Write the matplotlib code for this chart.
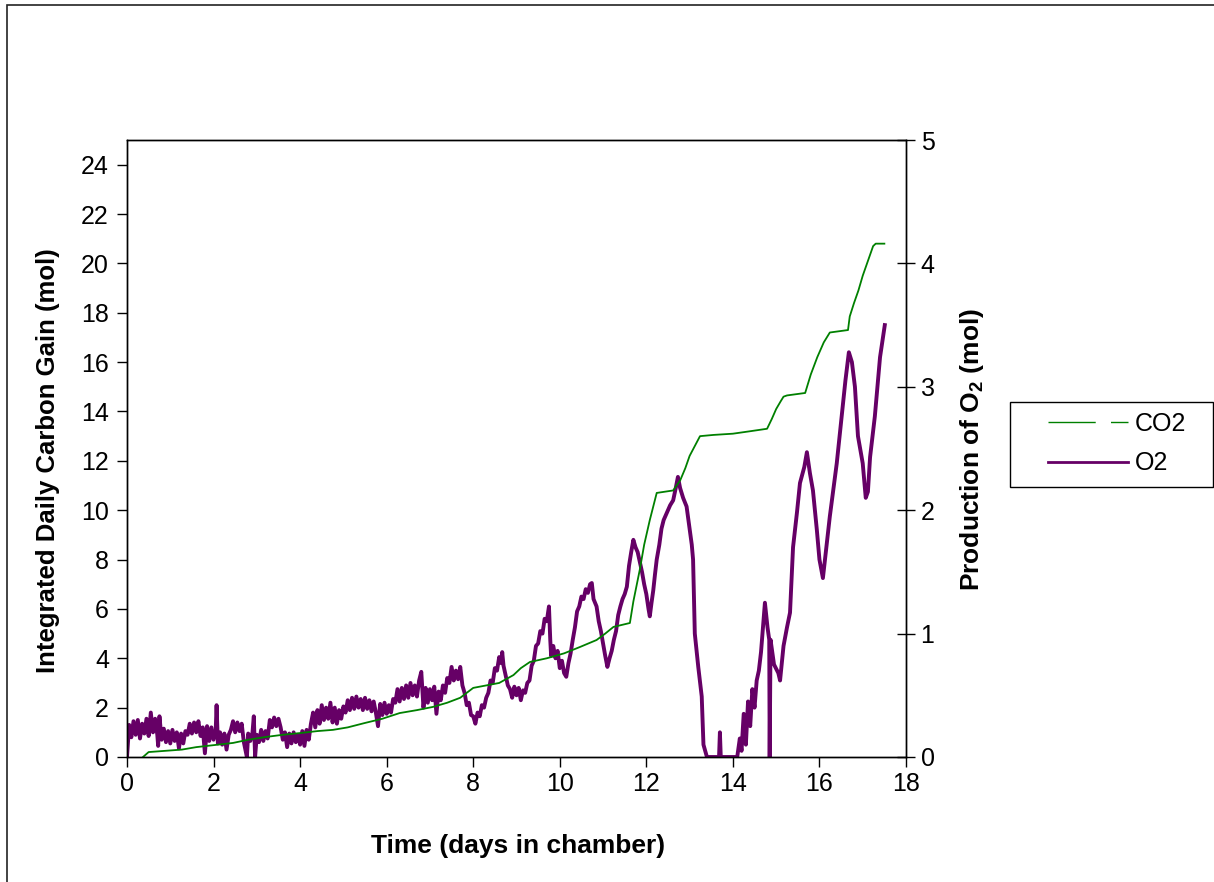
import matplotlib.pyplot as plt
from matplotlib.lines import Line2D
from matplotlib.patches import Rectangle

plt.rcParams['font.family'] = ['Liberation Sans', 'DejaVu Sans']
plt.rcParams['mathtext.fontset'] = 'custom'
plt.rcParams['mathtext.rm'] = 'Liberation Sans'
plt.rcParams['mathtext.bf'] = 'Liberation Sans:bold'

# integrated carbon gain (left axis)
co2_day = [0.37, 0.5, 1.27, 1.6, 2.0, 2.45, 2.8, 3.2, 3.6, 4.0, 4.4, 4.76, 5.1, 5.5, 5.9,
           6.3, 6.7, 7.07, 7.4, 7.7, 8.0, 8.3, 8.6, 8.93, 9.1, 9.31, 9.7, 10.1, 10.47,
           10.85, 11.05, 11.24, 11.62, 11.7, 11.85, 11.95, 12.08, 12.24, 12.62, 12.78,
           12.9, 13.0, 13.12, 13.24, 13.55, 14.0, 14.4, 14.79, 14.9, 15.0, 15.1, 15.17,
           15.25, 15.67, 15.8, 15.95, 16.1, 16.24, 16.66, 16.7, 16.8, 16.9, 17.0, 17.1,
           17.24, 17.3, 17.5]
co2_mol = [0.0, 0.2, 0.3, 0.4, 0.48, 0.57, 0.7, 0.81, 0.9, 0.97, 1.05, 1.1, 1.2, 1.38, 1.55,
           1.78, 1.9, 2.03, 2.2, 2.4, 2.8, 2.9, 3.0, 3.32, 3.6, 3.85, 4.0, 4.2, 4.46,
           4.74, 5.0, 5.27, 5.43, 6.3, 7.6, 8.6, 9.6, 10.7, 10.8, 11.2,
           11.7, 12.2, 12.6, 13.0, 13.05, 13.1, 13.2, 13.3, 13.7, 14.1, 14.4, 14.6,
           14.65, 14.75, 15.5, 16.2, 16.8, 17.2, 17.3, 17.85, 18.4, 18.9, 19.5, 20.0,
           20.7, 20.8, 20.8]

# oxygen production (right axis), noisy trace read as alternating highs and lows
o2_day = [0.0, 0.05, 0.1, 0.15, 0.2, 0.25, 0.3, 0.35, 0.4, 0.45, 0.5, 0.55, 0.6, 0.65, 0.7,
          0.72, 0.75, 0.8, 0.85, 0.9, 0.95, 1.0, 1.05, 1.1, 1.15, 1.2, 1.25, 1.3, 1.35, 1.4,
          1.45, 1.5, 1.55, 1.6, 1.65, 1.7, 1.75, 1.8, 1.85, 1.9, 1.95, 2.0, 2.05, 2.07, 2.1,
          2.15, 2.2, 2.25, 2.3, 2.35, 2.4, 2.45, 2.5, 2.55, 2.6, 2.65, 2.7, 2.77, 2.8, 2.85,
          2.9, 2.93, 2.96, 3.0, 3.05, 3.1, 3.15, 3.2, 3.25, 3.3, 3.35, 3.4, 3.45, 3.5, 3.55,
          3.6, 3.65, 3.7, 3.75, 3.8, 3.85, 3.9, 3.95, 4.0, 4.05, 4.1, 4.15, 4.2, 4.25, 4.3,
          4.35, 4.4, 4.45, 4.5, 4.55, 4.6, 4.65, 4.7, 4.75, 4.8, 4.85, 4.9, 4.95, 5.0, 5.05,
          5.1, 5.15, 5.2, 5.25, 5.3, 5.35, 5.4, 5.45, 5.5, 5.55, 5.6, 5.65, 5.7, 5.75, 5.8,
          5.85, 5.9, 5.95, 6.0, 6.05, 6.1, 6.15, 6.2, 6.25, 6.3, 6.35, 6.4, 6.45, 6.5, 6.55,
          6.6, 6.65, 6.7, 6.75, 6.8, 6.85, 6.9, 6.95, 7.0, 7.05, 7.1, 7.15, 7.2, 7.25, 7.3,
          7.35, 7.4, 7.45, 7.5, 7.55, 7.6, 7.65, 7.7, 7.75, 7.8, 7.85, 7.9, 7.95, 8.0, 8.05,
          8.1, 8.15, 8.2, 8.25, 8.3, 8.35, 8.4, 8.45, 8.5, 8.55, 8.6, 8.65, 8.67, 8.7, 8.75,
          8.8, 8.85, 8.9, 8.95, 9.0, 9.05, 9.1, 9.15, 9.2, 9.25, 9.3, 9.35, 9.4, 9.45, 9.5,
          9.55, 9.6, 9.65, 9.7, 9.75, 9.78, 9.8, 9.85, 9.9, 9.95, 10.0, 10.05, 10.1, 10.15,
          10.2, 10.25, 10.3, 10.35, 10.4, 10.45, 10.5, 10.55, 10.6, 10.65, 10.7, 10.74, 10.78,
          10.85, 10.9, 10.95, 11.0, 11.05, 11.1, 11.15, 11.2, 11.25, 11.3, 11.35, 11.4, 11.45,
          11.5, 11.55, 11.6, 11.65, 11.7, 11.75, 11.8, 11.85, 11.9, 11.95, 12.0, 12.05, 12.08,
          12.12, 12.16, 12.2, 12.24, 12.3, 12.35, 12.4, 12.45, 12.5, 12.55, 12.62, 12.68,
          12.73, 12.78, 12.85, 12.93, 13.0, 13.05, 13.08, 13.12, 13.2, 13.28, 13.32, 13.4,
          13.47, 13.6, 13.68, 13.7, 13.72, 14.1, 14.16, 14.2, 14.25, 14.3, 14.35, 14.4, 14.45,
          14.5, 14.55, 14.6, 14.65, 14.74, 14.8, 14.84, 14.85, 14.87, 14.95, 15.05,
          15.09, 15.17, 15.25, 15.32, 15.39, 15.48, 15.55, 15.65, 15.71, 15.78, 15.85,
          15.94, 16.0, 16.08, 16.16, 16.24, 16.4, 16.52, 16.6, 16.68, 16.75, 16.82,
          16.89, 17.0, 17.07, 17.12, 17.17, 17.28, 17.4, 17.51]
o2_mol = [0.0, 0.26, 0.16, 0.29, 0.18, 0.3, 0.15, 0.27, 0.19, 0.31, 0.17, 0.36, 0.2, 0.31, 0.18,
          0.09, 0.33, 0.14, 0.23, 0.12, 0.21, 0.11, 0.22, 0.13, 0.2, 0.07, 0.19, 0.11, 0.21, 0.18,
          0.27, 0.19, 0.28, 0.2, 0.29, 0.17, 0.24, 0.03, 0.25, 0.13, 0.24, 0.14, 0.22, 0.42, 0.11,
          0.2, 0.1, 0.19, 0.06, 0.18, 0.22, 0.29, 0.2, 0.28, 0.21, 0.27, 0.12, 0.0, 0.19, 0.13,
          0.2, 0.33, 0.0, 0.18, 0.12, 0.22, 0.13, 0.21, 0.15, 0.3, 0.24, 0.32, 0.25, 0.31, 0.24,
          0.14, 0.2, 0.08, 0.19, 0.11, 0.2, 0.12, 0.18, 0.1, 0.21, 0.09, 0.22, 0.14, 0.27, 0.36,
          0.24, 0.38, 0.27, 0.42, 0.3, 0.4, 0.31, 0.44, 0.28, 0.4, 0.27, 0.38, 0.31, 0.41, 0.36,
          0.46, 0.38, 0.48, 0.39, 0.49, 0.4, 0.47, 0.38, 0.48, 0.39, 0.46, 0.37, 0.45, 0.36, 0.25,
          0.43, 0.34, 0.44, 0.35, 0.42, 0.36, 0.47, 0.44, 0.55, 0.45, 0.56, 0.47, 0.58, 0.48, 0.6,
          0.5, 0.58, 0.49, 0.62, 0.69, 0.4, 0.56, 0.44, 0.55, 0.46, 0.57, 0.35, 0.53, 0.46, 0.58,
          0.52, 0.64, 0.6, 0.73, 0.62, 0.7, 0.63, 0.73, 0.58, 0.52, 0.42, 0.44, 0.34, 0.33, 0.27,
          0.36, 0.33, 0.42, 0.4, 0.48, 0.52, 0.62, 0.6, 0.72, 0.7, 0.81, 0.76, 0.85, 0.74, 0.66,
          0.58, 0.55, 0.48, 0.57, 0.5, 0.56, 0.46, 0.54, 0.52, 0.6, 0.62, 0.74, 0.78, 0.9, 0.92,
          1.02, 1.0, 1.12, 1.1, 1.22, 0.95, 0.82, 0.9, 0.8, 0.86, 0.72, 0.78, 0.68, 0.65,
          0.76, 0.84, 0.95, 1.05, 1.18, 1.22, 1.3, 1.28, 1.36, 1.33, 1.4, 1.41, 1.28,
          1.22, 1.1, 1.02, 0.92, 0.82, 0.73, 0.8, 0.86, 0.95, 1.02, 1.15, 1.22, 1.28,
          1.32, 1.38, 1.55, 1.66, 1.76, 1.7, 1.66, 1.58, 1.5, 1.4, 1.32, 1.2, 1.14,
          1.25, 1.35, 1.48, 1.6, 1.72, 1.85, 1.92, 1.96, 2.0, 2.04, 2.08, 2.18,
          2.27, 2.18, 2.1, 2.03, 1.85, 1.72, 1.6, 1.0, 0.73, 0.49, 0.1, 0.0,
          0.0, 0.0, 0.0, 0.2, 0.0, 0.0, 0.15, 0.05, 0.35, 0.1, 0.45, 0.25, 0.55,
          0.4, 0.62, 0.7, 0.85, 1.25, 1.05, 0.95, 0.0, 0.95, 0.75, 0.68,
          0.62, 0.9, 1.05, 1.17, 1.7, 1.98, 2.22, 2.35, 2.47, 2.3, 2.16,
          1.84, 1.6, 1.45, 1.7, 1.95, 2.38, 2.78, 3.05, 3.28, 3.2, 3.0,
          2.6, 2.38, 2.1, 2.15, 2.43, 2.76, 3.24, 3.5]

W, H = 1214, 882
fig = plt.figure(figsize=(W / 100, H / 100), dpi=100)
ax = fig.add_axes([127 / W, 125 / H, 779 / W, 617 / H])
ax2 = ax.twinx()

ax2.plot(o2_day, o2_mol, color='#660066', lw=2.8)
ax.plot(co2_day, co2_mol, color='#008000', lw=1.3)
ax.set_zorder(ax2.get_zorder() + 1)
ax.patch.set_visible(False)

ax.set_xlim(0, 18)
ax.set_ylim(0, 25)
ax2.set_ylim(0, 5)
ax.set_xticks(range(0, 19, 2))
ax.set_yticks(range(0, 25, 2))
ax2.set_yticks(range(0, 6))

ax.tick_params(axis='x', direction='out', length=7, width=1, labelsize=18, pad=4, top=False)
ax.tick_params(axis='y', direction='out', length=7, width=1, labelsize=18, pad=6)
ax2.tick_params(axis='y', direction='inout', length=13, width=1, labelsize=18, pad=4)
for a in (ax, ax2):
    for s in a.spines.values():
        s.set_linewidth(1)

ax.set_xlabel('Time (days in chamber)', fontsize=19, fontweight='bold')
ax.xaxis.set_label_coords(0.502, -0.124)
ax.set_ylabel('Integrated Daily Carbon Gain (mol)', fontsize=18.5, fontweight='bold')
ax.yaxis.set_label_coords(-0.086, 0.48)
ax2.set_ylabel(r'Production of O$_\mathbf{2}$ (mol)', fontsize=19, fontweight='bold')
ax2.yaxis.set_label_coords(1.067, 0.498)

# legend box to the right of the plot
co2_handle = Line2D([], [], color='#008000', lw=1, dashes=(34, 11, 13, 100))
o2_handle = Line2D([], [], color='#660066', lw=2)
fig.legend([co2_handle, o2_handle], ['CO2', 'O2'], loc='upper left',
           bbox_to_anchor=(1048 / W, 1 - 412 / H), frameon=False, fontsize=18,
           handlelength=3.2, handletextpad=0.28, borderpad=0, borderaxespad=0,
           labelspacing=0.62)
fig.add_artist(Rectangle((1010 / W, 1 - 487 / H), 203 / W, 85 / H, transform=fig.transFigure,
                         fill=False, edgecolor='k', lw=1))

# outer chart border (left and top edges visible)
fig.add_artist(Rectangle((7 / W, -0.5), 1.5, 1.5 - 5 / H, transform=fig.transFigure,
                         fill=False, edgecolor='#222222', lw=1.2))

fig.savefig('out.png', dpi=100)
